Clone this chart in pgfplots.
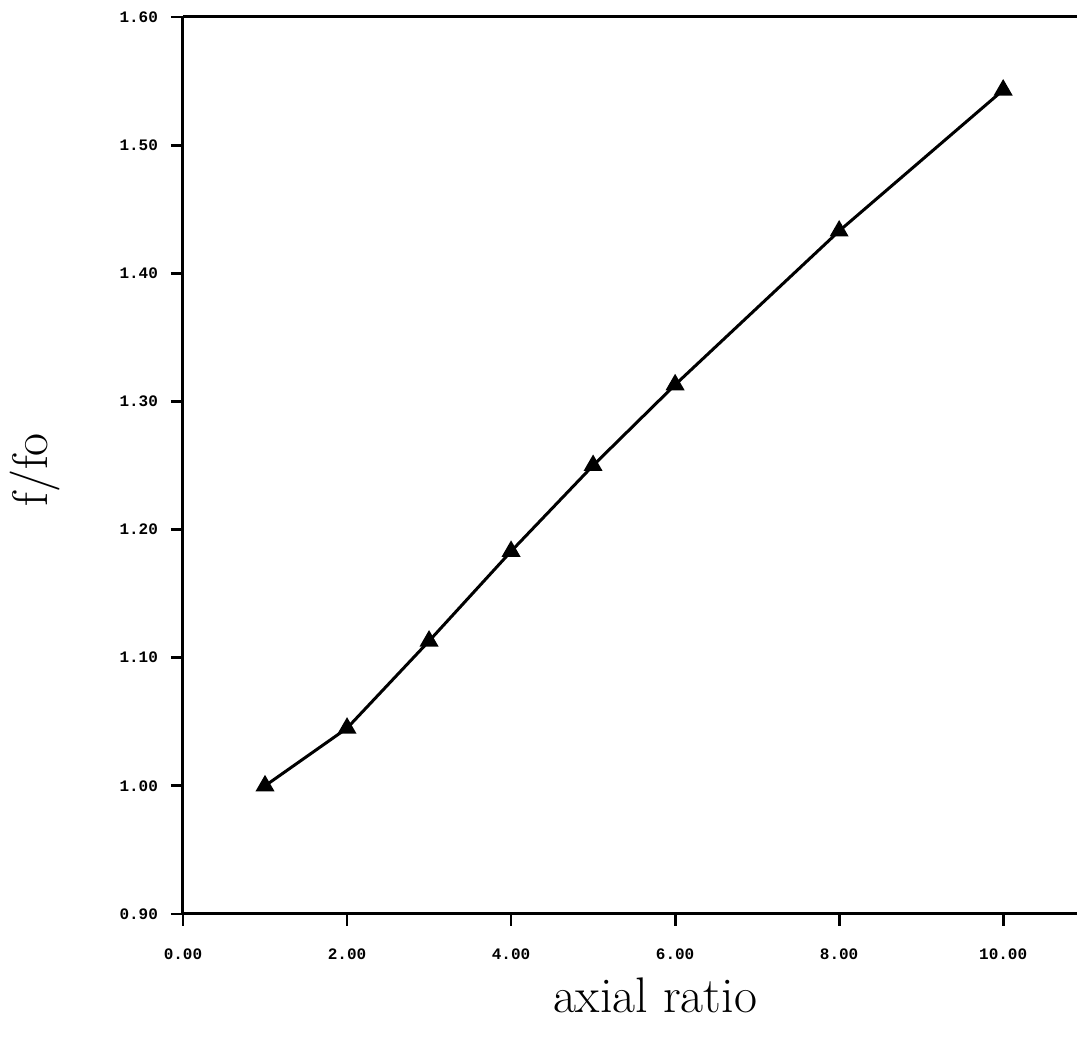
\documentclass[border=0pt]{standalone}
\usepackage{fontspec}
\setmonofont{Liberation Mono}
\usepackage{pgfplots}
\pgfplotsset{compat=1.18}
\begin{document}
\begin{tikzpicture}
% page frame
\path[use as bounding box] (-91.5pt,-64pt) rectangle (447pt,457pt);
\begin{axis}[
  at={(0,0)}, anchor=south west,
  scale only axis, width=447pt, height=448.5pt,
  clip=false,
  xmin=0, xmax=10.9, ymin=0.9, ymax=1.6,
  xtick={0,2,4,6,8,10}, ytick={0.9,1.0,1.1,1.2,1.3,1.4,1.5,1.6},
  tick align=outside, xtick pos=bottom, ytick pos=left,
  major tick length=6pt,
  every tick/.style={black, line width=1.4pt},
  axis line style={draw=none},
  /pgf/number format/.cd, fixed, fixed zerofill, precision=2, assume math mode=true,
  /pgfplots/.cd,
  ticklabel style={font=\fontsize{8}{9}\selectfont\bfseries\ttfamily},
  xticklabel style={yshift=-8pt},
  yticklabel style={xshift=-3pt},
  xlabel={axial ratio}, ylabel={f/fo},
  every axis x label/.style={at={(axis description cs:0.528,0)}, anchor=center,
    yshift=-40.5pt, font=\fontsize{25}{28}\selectfont},
  every axis y label/.style={at={(axis description cs:-0.1655,0.495)}, anchor=center,
    rotate=90, font=\fontsize{25}{28}\selectfont},
]
\draw[line width=1.5pt] (rel axis cs:0,1) -- (rel axis cs:0,0) -- (rel axis cs:1,0);
\draw[line width=1.5pt] (rel axis cs:0,1) -- (rel axis cs:1,1);
\addplot[black, line width=1.5pt, mark=triangle*, mark size=4pt, mark options={solid}]
  coordinates {
    (1,1.000) (2,1.045) (3,1.113) (4,1.183) (5,1.250)
    (6,1.313) (8,1.433) (10,1.543)
  };
\end{axis}
\end{tikzpicture}
\end{document}
